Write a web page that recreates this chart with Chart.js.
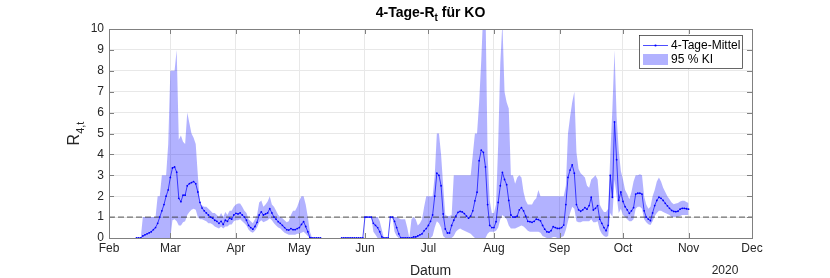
<!DOCTYPE html>
<html>
<head>
<meta charset="utf-8">
<script src="https://cdn.jsdelivr.net/npm/chart.js@4/dist/chart.umd.min.js"></script>
<style>
  body { margin: 0; background: #fff; }
  canvas { display: block; }
</style>
</head>
<body>
<canvas id="myChart" width="830" height="278"></canvas>
<script>
// day 0 = 1 Feb 2020, one value per day from startDay
const startDay = 13;
const monthDays = [0, 29, 60, 90, 121, 151, 182, 213, 243, 274, 304];
const monthLabels = ['Feb', 'Mar', 'Apr', 'May', 'Jun', 'Jul', 'Aug', 'Sep', 'Oct', 'Nov', 'Dec'];
const yTicks = [0, 1, 2, 3, 4, 5, 6, 7, 8, 9, 10];
const threshold = 1;

const meanValues = [
  0, 0, 0, 0.1, 0.15, 0.2, 0.25, 0.3, 0.4, 0.5,
  0.7, 1.0, 1.3, 1.6, 2.0, 2.3, 2.9, 3.35, 3.4, 3.15,
  1.9, 1.74, 2.05, 2.05, 2.5, 2.6, 2.65, 2.7, 2.6, 2.2,
  1.7, 1.43, 1.3, 1.2, 1.1, 1.0, 0.95, 0.85, 0.8, 0.7,
  0.8, 0.65, 0.85, 0.8, 0.95, 0.9, 1.1, 1.18, 1.15, 1.2,
  1.1, 1.0, 0.85, 0.6, 0.5, 0.42, 0.55, 0.75, 1.1, 1.25,
  1.1, 1.15, 1.2, 1.4, 1.2, 1.0, 0.9, 0.78, 0.7, 0.6,
  0.5, 0.4, 0.38, 0.45, 0.4, 0.4, 0.45, 0.5, 0.65, 0.78,
  0.55, 0.3, 0.02, 0, 0, 0, 0, 0, null, null,
  null, null, null, null, null, null, null, 0, 0, 0,
  0, 0, 0, 0, 0, 0, 0, 0, 1.0, 1.0,
  1.0, 1.0, 0.7, 0.6, 0.5, 0.3, 0.05, 0, 0, 0,
  1.0, 1.0, 0.8, 0.5, 0.2, 0, 0, 0, 0, 0,
  0, 0.05, 0.05, 0.1, 0.15, 0.2, 0.35, 0.45, 0.6, 0.8,
  1.1, 2.0, 3.1, 3.0, 2.5, 1.15, 0.43, 0.24, 0.24, 0.6,
  0.85, 1.05, 1.23, 1.27, 1.25, 1.17, 1.05, 0.95, 1.05, 1.3,
  1.78, 2.19, 3.7, 4.2, 4.1, 3.4, 1.6, 0.6, 0.5, 0.5,
  0.78, 1.7, 2.5, 3.14, 2.8, 2.55, 1.8, 1.1, 1.0, 1.0,
  1.05, 1.35, 1.45, 1.3, 1.05, 0.8, 0.78, 0.75, 0.8, 0.9,
  0.88, 0.82, 0.6, 0.42, 0.3, 0.28, 0.35, 0.54, 0.5, 0.46,
  0.46, 0.5, 0.62, 1.6, 2.9, 3.25, 3.5, 3.1, 1.6, 1.35,
  1.28, 1.35, 1.45, 1.38, 1.55, 1.95, 1.34, 1.42, 1.55, 0.9,
  0.7, 0.5, 0.35, 0.6, 3.0, 1.95, 5.55, 3.75, 1.8, 2.2,
  1.75, 1.5, 1.35, 1.18, 1.3, 1.45, 2.1, 2.14, 2.14, 2.1,
  1.3, 1.0, 0.9, 0.83, 1.2, 1.55, 1.8, 1.95, 1.9, 1.8,
  1.66, 1.54, 1.42, 1.32, 1.27, 1.26, 1.28, 1.38, 1.42, 1.42,
  1.4, 1.38
];

const lowValues = [
  0, 0, 0, 0, 0, 0, 0, 0, 0, 0,
  0, 0, 0, 0, 0, 0, 0, 0.85, 0.9, 0.8,
  0.6, 0.6, 0.75, 0.8, 1.1, 1.25, 1.35, 1.4, 1.35, 1.0,
  0.9, 0.9, 0.85, 0.8, 0.7, 0.7, 0.65, 0.55, 0.5, 0.45,
  0.55, 0.45, 0.55, 0.55, 0.65, 0.65, 0.8, 0.85, 0.85, 0.9,
  0.8, 0.7, 0.6, 0.4, 0.3, 0.25, 0.35, 0.5, 0.75, 0.85,
  0.75, 0.8, 0.85, 0.95, 0.85, 0.7, 0.6, 0.5, 0.45, 0.35,
  0.25, 0.2, 0.15, 0.15, 0.15, 0.15, 0.2, 0.2, 0.25, 0.3,
  0.2, 0.1, 0, 0, 0, 0, 0, 0, null, null,
  null, null, null, null, null, null, null, 0, 0, 0,
  0, 0, 0, 0, 0, 0, 0, 0, 1.0, 1.0,
  1.0, 1.0, 0.3, 0.15, 0, 0, 0, 0, 0, 0,
  1.0, 1.0, 0.3, 0.1, 0, 0, 0, 0, 0, 0,
  0, 0, 0, 0, 0, 0, 0, 0, 0, 0,
  0.1, 0.5, 0.8, 0.7, 0.5, 0.1, 0, 0, 0, 0,
  0.1, 0.3, 0.4, 0.45, 0.4, 0.35, 0.3, 0.25, 0.2, 0.1,
  0, 0, 0, 0, 0, 0, 0.2, 0.3, 0.3, 0.3,
  0.35, 0.5, 0.9, 1.1, 1.0, 0.9, 0.6, 0.45, 0.45, 0.45,
  0.5, 0.55, 0.6, 0.55, 0.45, 0.35, 0.3, 0.3, 0.3, 0.3,
  0.3, 0.25, 0.1, 0.05, 0, 0, 0, 0.05, 0.05, 0,
  0, 0.05, 0.1, 0.4, 0.8, 1.2, 1.5, 1.4, 0.8, 0.75,
  0.75, 0.8, 0.8, 0.8, 0.8, 0.9, 0.75, 0.75, 0.8, 0.4,
  0.2, 0.1, 0.05, 0.1, 1.2, 1.0, 2.8, 2.0, 1.2, 1.4,
  1.1, 1.0, 0.9, 0.8, 0.8, 0.9, 1.4, 1.5, 1.5, 1.4,
  0.9, 0.75, 0.66, 0.62, 0.8, 1.05, 1.2, 1.3, 1.3, 1.25,
  1.2, 1.15, 1.1, 1.0, 1.0, 1.0, 1.0, 1.05, 1.1, 1.1,
  1.1, 1.1
];

const highValues = [
  0, 0, 0, 1.0, 1.0, 1.0, 1.0, 1.0, 1.0, 1.0,
  2.0, 2.0, 3.0, 3.0, 3.0, 4.5, 8.0, 8.0, 8.0, 9.0,
  4.7, 4.9, 4.6, 4.5, 6.0, 5.5, 5.0, 4.8, 4.5, 3.0,
  1.6, 1.55, 1.5, 1.5, 1.4, 1.3, 1.2, 1.2, 1.1, 1.0,
  1.2, 1.0, 1.25, 1.1, 1.3, 1.3, 1.5, 1.6, 1.65, 1.65,
  1.5, 1.3, 1.2, 0.9, 0.8, 0.7, 0.9, 1.1, 1.7, 1.8,
  1.5, 1.6, 1.75, 2.0, 1.6, 1.5, 1.3, 1.1, 1.0, 0.95,
  0.85, 0.75, 0.8, 1.1, 1.3, 1.3, 1.5, 1.8, 2.0, 2.0,
  1.6, 1.0, 0.3, 0, 0, 0, 0, 0, null, null,
  null, null, null, null, null, null, null, 0, 0, 0,
  0, 0, 0, 0, 0, 0, 0, 0, 1.0, 1.0,
  1.0, 1.0, 1.0, 1.0, 1.0, 0.8, 0.4, 0, 0, 0,
  1.0, 1.0, 1.0, 1.0, 0.95, 0.9, 0.9, 0.9, 0.5, 0,
  0.9, 1.0, 0.9, 0.6, 0.7, 0.9, 1.5, 2.0, 2.0, 2.0,
  2.0, 3.0, 5.0, 5.0, 4.0, 2.5, 1.1, 1.05, 1.05, 1.1,
  3.0, 3.0, 3.0, 3.0, 3.0, 3.0, 3.0, 3.0, 3.0, 4.0,
  5.0, 5.0, 6.5, 8.5, 11, 11, 4.0, 1.8, 1.2, 1.2,
  1.6, 4.5, 8.4, 10.3, 7.0, 6.5, 6.2, 3.0, 3.0, 2.6,
  2.9, 3.0, 2.9, 2.2, 1.8, 1.6, 1.6, 1.6, 1.8, 1.9,
  2.3, 2.0, 2.0, 2.0, 2.0, 2.0, 2.0, 2.0, 2.0, 2.0,
  2.0, 2.0, 2.0, 2.5, 5.0, 5.8, 6.5, 7.0, 4.1, 3.3,
  3.1, 3.0, 2.9, 2.5, 2.4, 2.8, 2.9, 3.0, 2.8, 1.6,
  1.4, 1.25, 1.25, 1.4, 4.0, 6.2, 9.0, 5.8, 4.2, 3.2,
  2.8, 2.3, 2.1, 1.85, 2.2, 2.7, 3.0, 3.0, 3.05, 3.0,
  2.0, 1.6, 1.4, 1.5, 2.0, 2.3, 2.7, 2.9, 2.7, 2.4,
  2.2, 2.0, 1.85, 1.7, 1.62, 1.65, 1.68, 1.75, 1.78, 1.78,
  1.72, 1.68
];

const toPoints = arr => arr.map((v, i) => ({ x: startDay + i, y: v }));

const FONT = '"Liberation Sans", Arial, Helvetica, sans-serif';
const BLUE = 'rgb(0,0,255)';
const BAND = 'rgba(0,0,255,0.3)';
const AXIS = '#808080';

const overlay = {
  id: 'overlay',
  afterDraw(chart) {
    const { ctx, chartArea: a, scales } = chart;
    ctx.save();
    // box
    ctx.strokeStyle = AXIS;
    ctx.lineWidth = 1;
    ctx.strokeRect(Math.round(a.left) + 0.5, Math.round(a.top) + 0.5,
      Math.round(a.right - a.left), Math.round(a.bottom - a.top));
    // inward ticks
    ctx.beginPath();
    monthDays.forEach(d => {
      const x = Math.round(scales.x.getPixelForValue(d)) + 0.5;
      ctx.moveTo(x, a.bottom); ctx.lineTo(x, a.bottom - 5);
      ctx.moveTo(x, a.top); ctx.lineTo(x, a.top + 5);
    });
    yTicks.forEach(v => {
      const y = Math.round(scales.y.getPixelForValue(v)) + 0.5;
      ctx.moveTo(a.left, y); ctx.lineTo(a.left + 5, y);
      ctx.moveTo(a.right, y); ctx.lineTo(a.right - 5, y);
    });
    ctx.stroke();

    // title
    ctx.fillStyle = '#000';
    ctx.textBaseline = 'alphabetic';
    ctx.font = 'bold 14px ' + FONT;
    const p1 = '4-Tage-R', p3 = ' für KO';
    const w1 = ctx.measureText(p1).width, w3 = ctx.measureText(p3).width;
    ctx.font = 'bold 10px ' + FONT;
    const w2 = ctx.measureText('t').width;
    let tx = (a.left + a.right) / 2 - (w1 + w2 + w3) / 2;
    ctx.font = 'bold 14px ' + FONT;
    ctx.fillText(p1, tx, 17);
    ctx.font = 'bold 10px ' + FONT;
    ctx.fillText('t', tx + w1, 21);
    ctx.font = 'bold 14px ' + FONT;
    ctx.fillText(p3, tx + w1 + w2, 17);

    // x labels
    ctx.fillStyle = '#262626';
    ctx.font = '14px ' + FONT;
    ctx.textAlign = 'center';
    ctx.fillText('Datum', (a.left + a.right) / 2, 275);
    ctx.font = '12px ' + FONT;
    ctx.fillText('2020', 725, 274);

    // y label R_{4,t}
    ctx.save();
    ctx.translate(79, (a.top + a.bottom) / 2);
    ctx.rotate(-Math.PI / 2);
    ctx.textAlign = 'left';
    ctx.font = '16px ' + FONT;
    const wr = ctx.measureText('R').width;
    ctx.font = '11px ' + FONT;
    const ws = ctx.measureText('4,t').width;
    const sx = -(wr + ws) / 2;
    ctx.font = '16px ' + FONT;
    ctx.fillText('R', sx, 0);
    ctx.font = '11px ' + FONT;
    ctx.fillText('4,t', sx + wr, 5);
    ctx.restore();

    // legend
    const lx = 639.5, ly = 35.5, lw = 103, lh = 33;
    ctx.fillStyle = '#fff';
    ctx.fillRect(lx, ly, lw, lh);
    ctx.strokeStyle = '#262626';
    ctx.lineWidth = 0.7;
    ctx.strokeRect(lx, ly, lw, lh);
    ctx.strokeStyle = BLUE;
    ctx.lineWidth = 0.7;
    ctx.beginPath();
    ctx.moveTo(643, 45.5); ctx.lineTo(668, 45.5);
    ctx.stroke();
    ctx.fillStyle = BLUE;
    ctx.beginPath();
    ctx.arc(655.5, 45.5, 1.1, 0, Math.PI * 2);
    ctx.fill();
    ctx.fillStyle = BAND;
    ctx.fillRect(643, 54, 25, 11);
    ctx.fillStyle = '#000';
    ctx.textAlign = 'left';
    ctx.textBaseline = 'middle';
    ctx.font = '12px ' + FONT;
    ctx.fillText('4-Tage-Mittel', 671, 45.5);
    ctx.fillText('95 % KI', 671, 60);
    ctx.restore();
  }
};

new Chart(document.getElementById('myChart'), {
  type: 'line',
  data: {
    datasets: [
      {
        label: '4-Tage-Mittel',
        data: toPoints(meanValues),
        borderColor: BLUE,
        backgroundColor: BLUE,
        borderWidth: 0.7,
        pointRadius: 0.9,
        pointBorderWidth: 0,
        spanGaps: false,
        order: 0
      },
      {
        label: 'threshold',
        data: [{ x: monthDays[0], y: threshold }, { x: monthDays[monthDays.length - 1], y: threshold }],
        borderColor: '#404040',
        borderWidth: 0.9,
        borderDash: [6, 3],
        pointRadius: 0,
        order: 1
      },
      {
        label: '95 % KI',
        data: toPoints(highValues),
        borderWidth: 0,
        borderColor: 'transparent',
        backgroundColor: BAND,
        pointRadius: 0,
        fill: '+1',
        spanGaps: false,
        order: 2
      },
      {
        label: 'low',
        data: toPoints(lowValues),
        borderWidth: 0,
        borderColor: 'transparent',
        pointRadius: 0,
        fill: false,
        spanGaps: false,
        order: 3
      }
    ]
  },
  options: {
    responsive: false,
    animation: false,
    layout: { padding: { left: 0, right: 78, top: 29, bottom: 0 } },
    plugins: { legend: { display: false }, tooltip: { enabled: false } },
    scales: {
      x: {
        type: 'linear',
        min: monthDays[0],
        max: monthDays[monthDays.length - 1],
        afterBuildTicks: scale => { scale.ticks = monthDays.map(v => ({ value: v })); },
        afterFit: scale => { scale.height = 40; },
        ticks: {
          autoSkip: false,
          maxRotation: 0,
          padding: 3,
          color: '#262626',
          font: { family: FONT, size: 12 },
          callback: v => monthLabels[monthDays.indexOf(v)]
        },
        grid: { color: '#e8e8e8', drawTicks: false },
        border: { display: false }
      },
      y: {
        min: 0,
        max: 10,
        afterBuildTicks: scale => { scale.ticks = yTicks.map(v => ({ value: v })); },
        afterFit: scale => { scale.width = 109; },
        ticks: {
          padding: 5,
          color: '#262626',
          font: { family: FONT, size: 12 }
        },
        grid: { color: '#e8e8e8', drawTicks: false },
        border: { display: false }
      }
    }
  },
  plugins: [overlay]
});
</script>
</body>
</html>
